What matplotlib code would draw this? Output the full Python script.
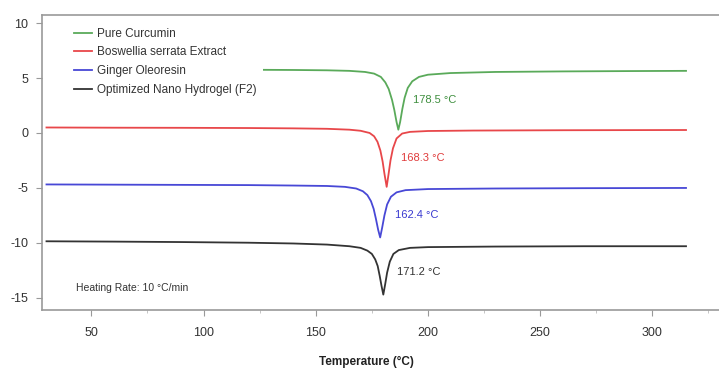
import matplotlib
matplotlib.use("Agg")
import matplotlib.pyplot as plt
from matplotlib.patches import Rectangle
from matplotlib.ticker import MultipleLocator

plt.rcParams['font.family'] = ['Liberation Sans', 'DejaVu Sans']
plt.rcParams['axes.unicode_minus'] = False

# ---- data ----
labels = ["Pure Curcumin", "Boswellia serrata Extract", "Ginger Oleoresin",
          "Optimized Nano Hydrogel (F2)"]

t_curcumin = [30, 60, 90, 120, 140, 155, 165, 172, 176, 179, 181, 182.5, 184, 185, 186,
              186.8, 187.6, 188.6, 189.6, 191, 193, 196, 200, 210, 230, 260, 290, 315]
v_curcumin = [5.78, 5.77, 5.76, 5.75, 5.73, 5.7, 5.65, 5.55, 5.4, 5.1, 4.6, 4.0, 3.0, 2.1, 1.0,
              0.3, 1.0, 2.2, 3.2, 4.1, 4.7, 5.1, 5.3, 5.45, 5.55, 5.6, 5.63, 5.65]

t_boswellia = [30, 60, 90, 120, 140, 155, 165, 170, 174, 176, 177.5, 178.8, 179.8, 180.6,
               181.6, 182.4, 183.3, 184.4, 186, 188.5, 192, 200, 220, 260, 315]
v_boswellia = [0.5, 0.48, 0.47, 0.45, 0.42, 0.38, 0.3, 0.2, 0.0, -0.3, -0.8, -1.6, -2.6, -3.7,
               -4.9, -3.8, -2.5, -1.4, -0.5, -0.05, 0.1, 0.18, 0.22, 0.25, 0.27]

t_ginger = [30, 60, 90, 120, 140, 155, 163, 168, 171, 173, 174.6, 175.8, 176.8, 177.8,
            178.7, 179.6, 180.6, 181.8, 183.5, 186, 190, 200, 230, 270, 315]
v_ginger = [-4.68, -4.7, -4.72, -4.74, -4.78, -4.82, -4.9, -5.05, -5.3, -5.65, -6.2, -6.9, -7.8,
            -8.8, -9.5, -8.6, -7.5, -6.5, -5.8, -5.4, -5.2, -5.1, -5.05, -5.02, -5.0]

t_hydrogel = [30, 60, 90, 120, 140, 155, 165, 170, 173, 175, 176.5, 177.6, 178.5, 179.3,
              180.1, 180.9, 181.8, 183, 184.6, 187, 192, 200, 230, 270, 315]
v_hydrogel = [-9.85, -9.88, -9.92, -9.98, -10.05, -10.15, -10.3, -10.45, -10.7, -11.0, -11.5,
              -12.1, -13.0, -13.9, -14.7, -13.8, -12.7, -11.7, -11.0, -10.65, -10.45, -10.38,
              -10.33, -10.3, -10.3]

peak_texts = ["178.5 °C", "168.3 °C", "162.4 °C", "171.2 °C"]
peak_text_x = [193.4, 188.0, 185.3, 186.2]
peak_text_y = [3.0, -2.3, -7.45, -12.6]

line_colors = ["#5aaa5a", "#e8474a", "#4848d6", "#333333"]
text_colors = ["#3f8f3f", "#e03c3c", "#3a3ad0", "#333333"]

xticks = [50, 100, 150, 200, 250, 300]
yticks = [-15, -10, -5, 0, 5, 10]

# ---- figure ----
fig = plt.figure(figsize=(7.19, 3.68), dpi=100)
ax = fig.add_axes([42 / 719, 1 - 310 / 368, 1 - 42 / 719, (310 - 15) / 368])

series = [(t_curcumin, v_curcumin), (t_boswellia, v_boswellia),
          (t_ginger, v_ginger), (t_hydrogel, v_hydrogel)]
for (t, v), lab, c in zip(series, labels, line_colors):
    ax.plot(t, v, color=c, lw=1.3, label=lab, zorder=2)

for s, x, y, c in zip(peak_texts, peak_text_x, peak_text_y, text_colors):
    ax.text(x, y, s, color=c, fontsize=8, ha='left', va='center')

ax.set_xlim(28.0, 329.7)
ax.set_ylim(-16.1, 10.73)
ax.set_xticks(xticks)
ax.set_yticks(yticks)
ax.xaxis.set_minor_locator(MultipleLocator(25))

for side in ['top', 'left', 'bottom']:
    ax.spines[side].set_color('#999999')
    ax.spines[side].set_linewidth(1.2)
ax.spines['right'].set_visible(False)

ax.tick_params(axis='both', which='major', colors='#999999', labelcolor='#333333',
               labelsize=9, length=4, width=0.8)
ax.tick_params(axis='x', which='major', pad=8)
ax.tick_params(axis='y', which='major', pad=6)
ax.tick_params(axis='x', which='minor', colors='#bbbbbb', length=2, width=0.6)

ax.set_xlabel("Temperature (°C)", fontsize=8.5, color='#222222', fontweight='bold')
ax.xaxis.set_label_coords((366 - 42) / 677, -0.155)

# white area behind the legend
ax.add_patch(Rectangle((0.004, 0.678), 0.322, 0.305, transform=ax.transAxes,
                       facecolor='white', edgecolor='none', zorder=3))
leg = ax.legend(loc='upper left', bbox_to_anchor=(0.041, 0.973), frameon=False,
                fontsize=8.5, handlelength=1.5, handletextpad=0.4, labelspacing=0.57,
                borderaxespad=0, borderpad=0.4)
leg.set_zorder(5)
for txt in leg.get_texts():
    txt.set_color('#333333')

ax.text(0.05, 0.075, "Heating Rate: 10 °C/min", transform=ax.transAxes,
        fontsize=7.5, color='#333333', ha='left', va='center')

fig.savefig("out.png", dpi=100)
